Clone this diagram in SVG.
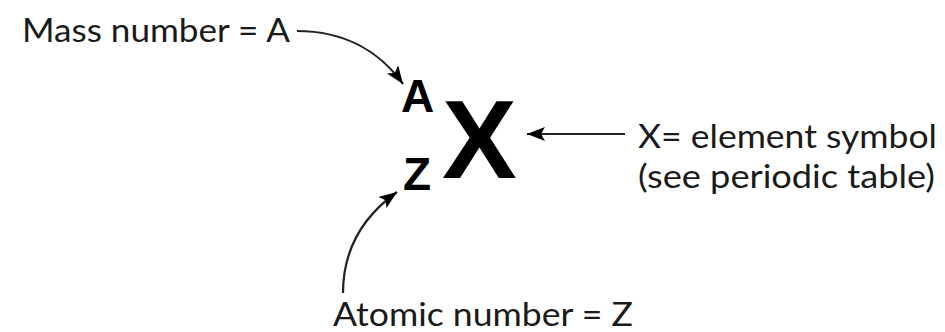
<svg xmlns="http://www.w3.org/2000/svg" width="945" height="332" viewBox="0 0 945 332">
<style>
.lbl{font-family:Lato,"Noto Sans",sans-serif;font-size:33px;fill:#1a1a1a}
.sym{font-family:"Liberation Sans",Arial,sans-serif;font-weight:bold;fill:#000}
.con{fill:none;stroke:#222;stroke-width:2.2}
</style>
<defs>
<marker id="ah" markerUnits="userSpaceOnUse" markerWidth="20" markerHeight="14" refX="18" refY="7" orient="auto">
<path d="M0,0 L18,7 L0,14 L4,7 Z" fill="#000"/>
</marker>
</defs>
<rect width="945" height="332" fill="#fff"/>
<g id="mass-label"><text class="lbl" x="22" y="42" textLength="268" lengthAdjust="spacingAndGlyphs">Mass number = A</text></g>
<g id="element-label">
<text class="lbl" x="638" y="148" textLength="299" lengthAdjust="spacingAndGlyphs">X= element symbol</text>
<text class="lbl" x="638" y="188" textLength="297" lengthAdjust="spacingAndGlyphs">(see periodic table)</text>
</g>
<g id="atomic-label"><text class="lbl" x="333" y="326" textLength="300" lengthAdjust="spacingAndGlyphs">Atomic number = Z</text></g>
<g id="symbol">
<text class="sym" x="401" y="112" font-size="46">A</text>
<text class="sym" x="403" y="190" font-size="46">Z</text>
<text class="sym" x="442" y="178" font-size="112">X</text>
</g>
<g id="connectors">
<path class="con" d="M297,31 C345,31 380,52 403,84" marker-end="url(#ah)"/>
<path class="con" d="M343,293 C343,248 365,215 397,192" marker-end="url(#ah)"/>
<path class="con" d="M625,134 L527,134" marker-end="url(#ah)"/>
</g>
</svg>
